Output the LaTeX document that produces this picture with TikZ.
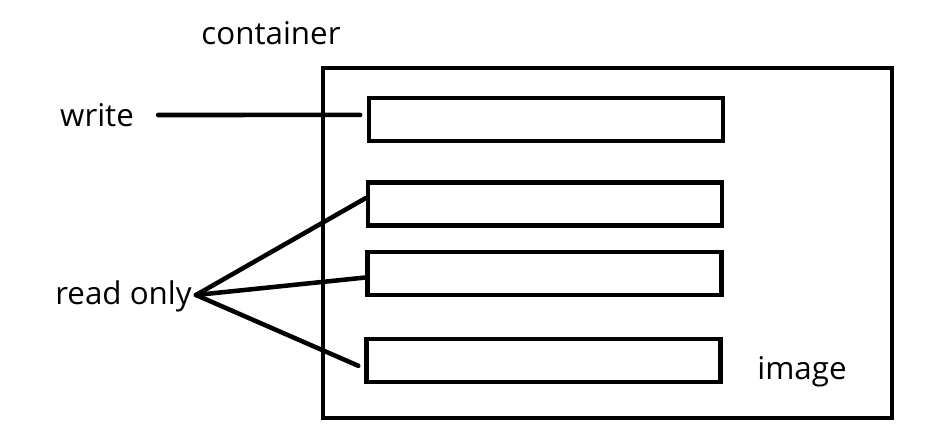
\documentclass[tikz,border=0pt]{standalone}
\usepackage{fontspec}
\setmainfont{Open Sans}
\tikzset{
  label/.style={font=\fontsize{23.5}{28}\selectfont, inner sep=0pt},
  layer/.style={draw=black, line width=3.2pt, minimum width=354*0.75pt, minimum height=43*0.75pt, inner sep=0pt},
  link/.style={draw=black, line width=3.4pt, line cap=round}
}
\begin{document}
\begin{tikzpicture}[x=0.75pt,y=-0.75pt]
  \useasboundingbox (0,0) rectangle (942,445);
  % outer box
  \node[draw=black, line width=3.6pt, minimum width=569*0.75pt, minimum height=350*0.75pt, inner sep=0pt] (box) at (607.5,243) {};
  \node[label] (container) at (271,33) {container};
  \node[label] (image) at (802,372) {image};
  % layers
  \node[layer] (l1) at (546,119.5) {};
  \node[layer] (l2) at (545,204) {};
  \node[layer] (l3) at (544.5,273.5) {};
  \node[layer] (l4) at (543.5,360.5) {};
  % labels on the left
  \node[label] (write) at (97,115) {write};
  \node[label] (ro) at (123.5,296) {read only};
  \coordinate (wstart) at (158,115);
  \coordinate (join) at (196,295);
  \draw[link] (wstart) -- ([xshift=-5pt,yshift=3.4pt]l1.west);
  \draw[link] (join) -- ([yshift=4.5pt]l2.west);
  \draw[link] (join) -- ([yshift=-3pt]l3.west);
  \draw[link] (join) -- ([xshift=-4.5pt,yshift=-4pt]l4.west);
\end{tikzpicture}
\end{document}
